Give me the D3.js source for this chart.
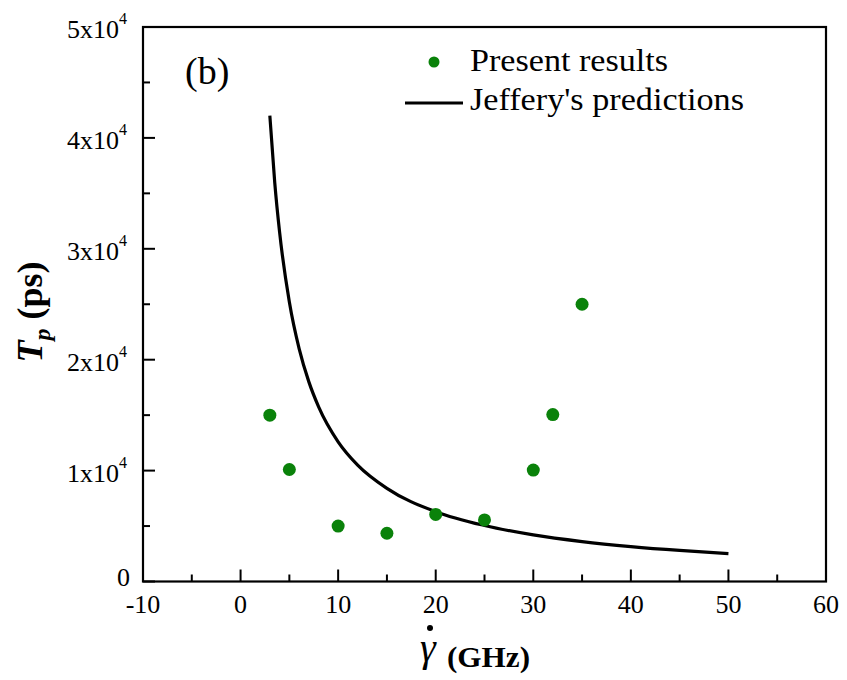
<!DOCTYPE html>
<html>
<head>
<meta charset="utf-8">
<script src="https://cdn.jsdelivr.net/npm/d3@7"></script>
<style>
  body { margin: 0; background: #fff; }
</style>
</head>
<body>
<svg id="chart" width="847" height="680" font-family="'Liberation Serif', 'DejaVu Serif', serif" style="display:block"></svg>
<script>
// Shear rate (GHz) and tumbling period (ps) from the simulations
const rateValues = [3, 5, 10, 15, 20, 25, 30, 32, 35];
const periodValues = [15000, 10100, 5000, 4350, 6050, 5550, 10050, 15050, 25000];

// Jeffery's orbit prediction, sampled along the shear-rate axis
const jefferyRate = [3, 3.5, 4, 5, 6, 7, 8, 10, 12, 15, 20, 25, 30, 35, 40, 45, 50];
const jefferyPeriod = [42000, 36000, 31500, 25200, 21000, 18000, 15750, 12600, 10500, 8400, 6300, 5050, 4200, 3600, 3150, 2800, 2520];

const xTicks = [-10, 0, 10, 20, 30, 40, 50, 60];
const yTicks = [0, 10000, 20000, 30000, 40000, 50000];
const legendLabels = ["Present results", "Jeffery's predictions"];

const svg = d3.select("#chart");
const plotL = 143, plotR = 826, plotT = 27, plotB = 581.5;

const x = d3.scaleLinear().domain([-10, 60]).range([plotL, plotR]);
const y = d3.scaleLinear().domain([0, 50000]).range([plotB, plotT]);

// frame
svg.append("rect")
  .attr("x", plotL).attr("y", plotT)
  .attr("width", plotR - plotL).attr("height", plotB - plotT)
  .attr("fill", "none").attr("stroke", "#000").attr("stroke-width", 2.2);

// x axis: inward ticks with minor ticks halfway
const xMinor = d3.range(-5, 60, 10);
const gx = svg.append("g");
gx.selectAll("line.maj").data(xTicks).join("line").attr("class", "maj")
  .attr("x1", d => x(d)).attr("x2", d => x(d))
  .attr("y1", plotB).attr("y2", plotB - 12)
  .attr("stroke", "#000").attr("stroke-width", 2);
gx.selectAll("line.min").data(xMinor).join("line").attr("class", "min")
  .attr("x1", d => x(d)).attr("x2", d => x(d))
  .attr("y1", plotB).attr("y2", plotB - 7)
  .attr("stroke", "#000").attr("stroke-width", 2);
gx.selectAll("text").data(xTicks).join("text")
  .attr("x", d => x(d)).attr("y", plotB + 31.5)
  .attr("text-anchor", "middle")
  .attr("font-size", 26)
  .text(d => d);

// y axis
const yMinor = d3.range(5000, 50000, 10000);
const gy = svg.append("g");
gy.selectAll("line.maj").data(yTicks).join("line").attr("class", "maj")
  .attr("x1", plotL).attr("x2", plotL + 12)
  .attr("y1", d => y(d)).attr("y2", d => y(d))
  .attr("stroke", "#000").attr("stroke-width", 2);
gy.selectAll("line.min").data(yMinor).join("line").attr("class", "min")
  .attr("x1", plotL).attr("x2", plotL + 7)
  .attr("y1", d => y(d)).attr("y2", d => y(d))
  .attr("stroke", "#000").attr("stroke-width", 2);
gy.selectAll("text").data(yTicks).join("text")
  .attr("x", plotL - 16).attr("y", d => y(d) + 11)
  .attr("text-anchor", "end")
  .attr("font-size", 26)
  .each(function(d) {
    const t = d3.select(this);
    if (d === 0) { t.attr("x", plotL - 13).attr("y", y(d) + 4).text("0"); return; }
    t.append("tspan").text((d / 10000) + "x10");
    t.append("tspan").attr("font-size", 16).attr("dy", -14).text("4");
  });

// Jeffery curve
const line = d3.line()
  .x((d, i) => x(jefferyRate[i]))
  .y(d => y(d))
  .curve(d3.curveMonotoneX);
svg.append("path")
  .attr("d", line(jefferyPeriod))
  .attr("fill", "none").attr("stroke", "#000").attr("stroke-width", 3.2);

// simulation points
svg.append("g").selectAll("circle").data(periodValues).join("circle")
  .attr("cx", (d, i) => x(rateValues[i]))
  .attr("cy", d => y(d))
  .attr("r", 6.5)
  .attr("fill", "#0a820a");

// panel tag
svg.append("text").attr("x", 185).attr("y", 84)
  .attr("font-size", 38).text("(b)");

// legend
svg.append("circle").attr("cx", 434).attr("cy", 62).attr("r", 5.5).attr("fill", "#0a820a");
svg.append("text").attr("x", 470).attr("y", 71).attr("font-size", 32)
  .attr("textLength", 198).attr("lengthAdjust", "spacingAndGlyphs")
  .text(legendLabels[0]);
svg.append("line").attr("x1", 405).attr("x2", 463).attr("y1", 103).attr("y2", 103)
  .attr("stroke", "#000").attr("stroke-width", 3.2);
svg.append("text").attr("x", 470).attr("y", 110).attr("font-size", 32)
  .attr("textLength", 274).attr("lengthAdjust", "spacingAndGlyphs")
  .text(legendLabels[1]);

// y axis title
const yt = svg.append("text")
  .attr("transform", "translate(42,312) rotate(-90)")
  .attr("text-anchor", "middle")
  .attr("font-size", 36).attr("font-weight", "bold");
yt.append("tspan").attr("font-style", "italic").text("T");
yt.append("tspan").attr("font-style", "italic").attr("font-size", 24).attr("dy", 8).text("p");
yt.append("tspan").attr("dy", -8).text(" (ps)");

// x axis title: shear rate (gamma with an overdot)
svg.append("text")
  .attr("x", 420).attr("y", 661)
  .attr("font-size", 40).attr("font-style", "italic")
  .text("\u03B3");
svg.append("circle").attr("cx", 430).attr("cy", 628).attr("r", 3).attr("fill", "#000");
svg.append("text")
  .attr("x", 447).attr("y", 667)
  .attr("font-size", 30).attr("font-weight", "bold")
  .attr("textLength", 83).attr("lengthAdjust", "spacingAndGlyphs")
  .text("(GHz)");
</script>
</body>
</html>
